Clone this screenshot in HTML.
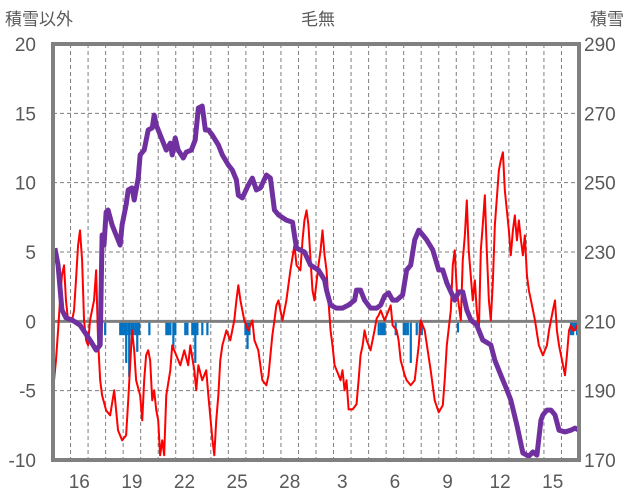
<!DOCTYPE html>
<html><head><meta charset="utf-8">
<style>
html,body{margin:0;padding:0;background:#fff;}
svg{display:block;font-family:"Liberation Sans","Noto Sans CJK JP",sans-serif;}
</style></head>
<body>
<svg id="chart" width="636" height="501" viewBox="0 0 636 501">
<g id="grid"></g>
<g id="bars"></g>
<g id="series"></g>
<g id="frame"></g>
<g id="labels"></g>
<text x="5" y="25" font-size="17" fill="#595959">積雪以外</text>
<text x="318" y="25" font-size="17" fill="#595959" text-anchor="middle">毛無</text>
<text x="590" y="25" font-size="17" fill="#595959">積雪</text>
</svg>
<script>
const dayLabels = ["16","19","22","25","28","3","6","9","12","15"];
const dayLabelPos = [1,4,7,10,13,16,19,22,25,28];
const leftTicks = [20,15,10,5,0,-5,-10];
const rightTicks = [290,270,250,230,210,190,170];
const snowT = [0.11,0.29,0.51,0.74,1.09,1.54,2.11,2.46,2.69,2.8,2.91,3.03,3.14,3.37,3.71,3.83,3.94,4.17,4.29,4.51,4.63,4.86,4.97,5.2,5.43,5.66,5.77,5.89,6.23,6.46,6.69,6.8,6.97,7.14,7.43,7.6,7.89,8.11,8.29,8.51,8.69,8.86,9.09,9.43,9.66,10,10.23,10.46,10.57,10.8,11.14,11.37,11.6,11.83,12.17,12.4,12.63,12.86,13.31,13.66,13.77,13.89,14.11,14.34,14.69,15.14,15.49,15.6,15.83,16.17,16.51,16.86,17.2,17.31,17.54,17.77,18.11,18.46,18.69,18.91,19.14,19.37,19.6,19.94,20.17,20.4,20.63,20.86,21.09,21.31,21.66,22,22.23,22.46,22.91,23.14,23.37,23.6,23.83,24.17,24.51,24.97,25.2,25.54,25.89,26.11,26.46,26.8,27.14,27.37,27.6,27.83,27.94,28.17,28.4,28.63,28.86,29.2,29.54,29.77,30];
const snowDepth = [231.1,226.2,213.3,211,210.4,208.9,204.6,201.7,203.2,234.9,232,241.5,242.1,237.8,233.5,232,237.8,243.6,247.9,248.5,245,251.3,258,259.4,265.2,265.8,269.5,266.6,262.3,259.4,261.4,258,262.9,259.4,257.1,258.8,259.4,262.3,271.5,272.1,265.2,265.2,263.7,260.9,258,255.1,253.6,250.8,246.4,245.6,249.3,251.3,247.9,248.5,252.2,251.3,242.1,240.7,239.2,238.6,234.9,231.1,230.6,230,226.2,224.8,221.9,219,214.7,213.8,213.8,214.7,216.1,219,219,216.1,213.8,213.8,214.7,217.3,218.2,216.1,216.1,217.6,224.8,226.2,233.5,236.3,234.9,233.5,230.6,224.8,224.8,221.1,216.1,218.5,218.5,213.3,210.4,208.9,204.6,203.2,198.8,194.5,190.2,187.3,180,172,171.1,172.3,171.4,181.5,183,184.4,184.4,183,178.6,178.1,178.6,179.2,178.6];
const tempT = [0.06,0.17,0.29,0.4,0.51,0.63,0.74,0.86,0.97,1.09,1.2,1.31,1.43,1.54,1.66,1.77,1.89,2,2.11,2.34,2.46,2.57,2.69,2.8,3.03,3.26,3.49,3.71,3.94,4.17,4.29,4.4,4.51,4.63,4.74,4.97,5.09,5.2,5.31,5.43,5.54,5.66,5.77,5.89,6,6.11,6.23,6.34,6.46,6.69,6.8,7.03,7.26,7.49,7.71,7.83,8.06,8.17,8.29,8.51,8.74,8.86,9.09,9.2,9.31,9.43,9.54,9.66,9.89,10.11,10.34,10.46,10.57,10.69,10.91,11.14,11.37,11.49,11.71,11.94,12.17,12.29,12.4,12.51,12.63,12.74,12.86,12.97,13.09,13.31,13.54,13.77,13.89,14.11,14.23,14.34,14.46,14.57,14.69,14.8,14.91,15.14,15.26,15.37,15.49,15.6,15.71,15.83,15.94,16.06,16.29,16.4,16.51,16.63,16.74,16.86,17.09,17.31,17.43,17.54,17.66,17.77,17.89,18.11,18.34,18.46,18.57,18.69,18.91,19.03,19.26,19.37,19.6,19.71,19.83,20.06,20.17,20.4,20.63,20.86,20.97,21.2,21.54,21.77,22,22.23,22.34,22.46,22.69,22.8,22.91,23.03,23.26,23.37,23.49,23.6,23.71,23.94,24.06,24.17,24.29,24.4,24.51,24.63,24.74,24.86,24.97,25.09,25.2,25.43,25.54,25.66,25.77,26,26.11,26.23,26.34,26.46,26.57,26.69,26.8,26.91,27.03,27.14,27.26,27.49,27.71,27.94,28.17,28.29,28.4,28.51,28.63,28.74,28.86,29.09,29.2,29.31,29.43,29.54,29.66,29.77,29.89,30];
const tempVal = [-4.25,-2.81,-0.65,1.51,3.32,4.04,1.51,0.07,0.22,0.07,0.79,2.96,5.48,6.56,4.4,0.07,-1.37,-1.73,0.07,1.51,3.68,-1.37,-4.25,-5.34,-6.42,-6.78,-4.97,-7.86,-8.58,-8.22,-5.7,-3.17,-0.65,-2.09,-4.25,-5.34,-7.14,-4.25,-2.45,-2.09,-2.81,-5.7,-4.97,-6.42,-7.14,-9.66,-8.58,-9.66,-5.34,-3.53,-1.73,-2.45,-3.17,-2.09,-3.17,-1.73,-3.53,-4.97,-3.17,-4.25,-3.53,-5.34,-8.5,-9.66,-7.14,-5.34,-2.81,-1.73,-0.65,-1.37,0.07,1.51,2.6,1.51,0.07,-0.65,0.07,-1.37,-2.09,-4.25,-4.61,-3.89,-2.45,-1.01,0.07,1.15,1.51,0.79,0.07,1.51,3.68,5.48,4.04,3.68,5.84,7.28,8.0,6.92,4.4,2.24,1.51,4.04,5.12,6.56,4.76,3.68,1.51,-0.65,-1.73,-3.17,-3.89,-4.25,-3.53,-4.97,-4.25,-6.35,-6.35,-5.98,-4.25,-2.45,-1.73,-0.65,-1.37,-2.09,-0.65,0.22,0.43,0.79,0.07,0.43,1.15,-0.29,-0.65,-1.37,-2.81,-3.89,-4.25,-4.61,-4.25,-1.73,0.07,-0.65,-3.53,-5.7,-6.56,-6.06,-4.25,-1.73,0.79,4.04,5.12,2.24,0.07,4.4,6.2,8.72,5.12,1.51,2.96,0.79,-0.65,5.12,6.92,9.09,5.12,1.51,0.07,2.96,6.92,10.89,11.61,12.19,9.45,6.56,4.76,6.56,7.64,5.84,7.28,5.84,4.76,6.2,3.32,2.24,1.51,0.07,-1.73,-2.45,-1.73,-0.65,0.07,0.79,1.51,-0.65,-1.73,-3.17,-3.89,-2.45,-0.65,-0.29,-0.65,-0.65,-0.29,-1.01];
const snowfallT = [2.97,3.83,3.94,4.06,4.17,4.29,4.34,4.46,4.57,4.69,4.8,4.91,5.49,6.46,6.57,6.69,6.86,6.97,7.54,7.66,7.94,8.06,8.11,8.23,8.51,8.8,10.97,11.09,11.2,18.57,18.69,18.8,18.91,19.54,20.0,20.11,20.23,20.4,20.74,20.91,21.03,23.09,29.54,29.66,29.77,29.89];
const snowfallVal = [-1,-1,-1,-1,-3,-1,-4,-1,-1,-1,-2.2,-1,-1,-1,-1,-1,-2.1,-1,-1,-1,-1,-1,-3,-1,-1,-1,-1,-2,-1,-1,-1,-1,-1,-1,-1,-1,-1,-3,-1,-1,-1,-0.8,-1,-1,-0.6,-1];

const L=53,R=579,T=44,B=460,NDAYS=30;
const xs=t=>L+(R-L)*t/NDAYS;
const yl=v=>T+(B-T)*(20-v)/30;
const yr=v=>T+(B-T)*(290-v)/120;
const NS="http://www.w3.org/2000/svg";
function mk(tag,parent,attrs){const e=document.createElementNS(NS,tag);for(const k in attrs)e.setAttribute(k,attrs[k]);parent.appendChild(e);return e;}
const grid=document.getElementById('grid');
for(let d=1;d<NDAYS;d++){
  const e=mk('line',grid,{x1:xs(d),x2:xs(d),y1:T,y2:B,stroke:'#7f7f7f','stroke-width':1,'stroke-dasharray':'4,3'});
  
  
}
leftTicks.forEach(v=>{ if(v===0||v===20||v===-10) return;
  const e=mk('line',grid,{x1:L,x2:R,y1:yl(v),y2:yl(v),stroke:'#7f7f7f','stroke-width':1,'stroke-dasharray':'4,3'});
  
  
});
const bars=document.getElementById('bars');
snowfallT.forEach((t,i)=>{
  const y0=yl(0),y1=yl(snowfallVal[i]);
  const e=mk('rect',bars,{x:xs(t)-1,y:y0,width:2.2,height:y1-y0,fill:'#0070C0'});
  
  
});
const ser=document.getElementById('series');
const zl=mk('line',ser,{x1:L,x2:R,y1:yl(0),y2:yl(0),stroke:'#808080','stroke-width':3});


const tp=mk('polyline',ser,{points:tempT.map((t,i)=>xs(t)+','+yl(tempVal[i])).join(' '),fill:'none',stroke:'#FF0000','stroke-width':2,'stroke-linejoin':'round'});


const sp=mk('polyline',ser,{points:snowT.map((t,i)=>xs(t)+','+yr(snowDepth[i])).join(' '),fill:'none',stroke:'#7030A0','stroke-width':5,'stroke-linejoin':'round'});


const fr=mk('rect',document.getElementById('frame'),{x:L,y:T,width:R-L,height:B-T,fill:'none',stroke:'#808080','stroke-width':4});


const lab=document.getElementById('labels');
leftTicks.forEach(v=>{
  const e=mk('text',lab,{x:36,y:yl(v)+7,'font-size':19,fill:'#595959','text-anchor':'end'});
  e.textContent=v;
  
  
});
rightTicks.forEach(v=>{
  const e=mk('text',lab,{x:584,y:yr(v)+7,'font-size':19,fill:'#595959'});
  e.textContent=v;
  
  
});
dayLabels.forEach((s,i)=>{
  const e=mk('text',lab,{x:xs(dayLabelPos[i]+0.5),y:488,'font-size':19,fill:'#595959','text-anchor':'middle'});
  e.textContent=s;
  
  
});
</script>
</body></html>
